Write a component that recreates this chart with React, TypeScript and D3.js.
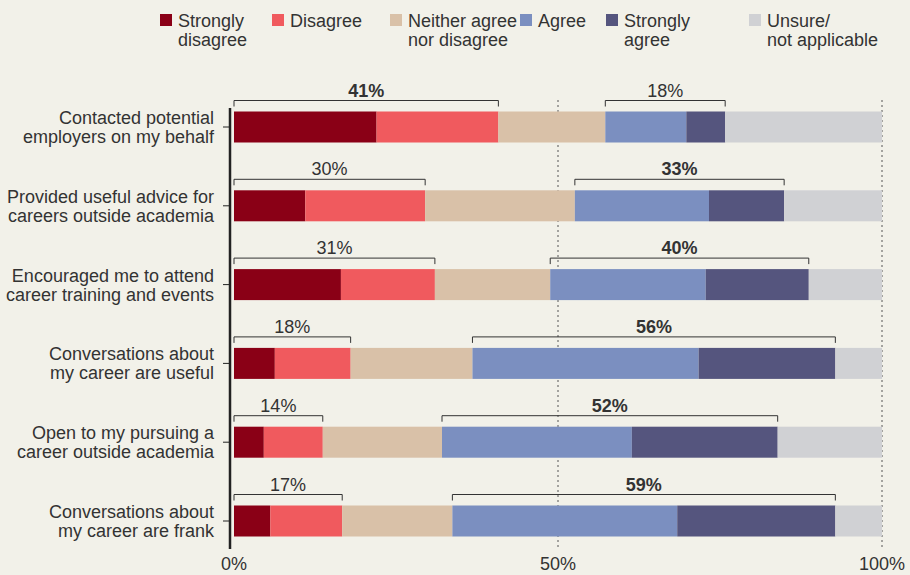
import React from "react";
import * as d3 from "d3";

const categories = [
  ["Contacted potential", "employers on my behalf"],
  ["Provided useful advice for", "careers outside academia"],
  ["Encouraged me to attend", "career training and events"],
  ["Conversations about", "my career are useful"],
  ["Open to my pursuing a", "career outside academia"],
  ["Conversations about", "my career are frank"],
];
const stronglyDisagree = [22, 11, 16.5, 6.3, 4.6, 5.6];
const disagree = [18.8, 18.5, 14.5, 11.7, 9.1, 11.1];
const neither = [16.5, 23.1, 17.8, 18.8, 18.4, 17.0];
const agree = [12.5, 20.7, 24, 34.9, 29.3, 34.7];
const stronglyAgree = [6, 11.6, 15.9, 21.1, 22.5, 24.4];
const unsure = [24.2, 15.1, 11.3, 7.2, 16.1, 7.2];

const disagreeLabels = ["41%", "30%", "31%", "18%", "14%", "17%"];
const agreeLabels = ["18%", "33%", "40%", "56%", "52%", "59%"];
const boldDisagree = [true, false, false, false, false, false];

const legendLabels = [
  ["Strongly", "disagree"],
  ["Disagree"],
  ["Neither agree", "nor disagree"],
  ["Agree"],
  ["Strongly", "agree"],
  ["Unsure/", "not applicable"],
];
const tickValues = [0, 50, 100];

const colors = ["#8a0016", "#f05a5e", "#d9c1a8", "#7b8fc0", "#55557e", "#d0d1d4"];
const legendX = [160, 272, 390, 520, 606, 749];

export default function App() {
  const W = 910, H = 575;
  const x = d3.scaleLinear().domain([0, 100]).range([234, 882]);
  const y = d3.scalePoint<number>().domain(d3.range(categories.length)).range([127, 521]);
  const barH = 31;
  const series = [stronglyDisagree, disagree, neither, agree, stronglyAgree, unsure];
  const font = "'Liberation Sans', Arial, sans-serif";
  const textColor = "#333";
  const fs = 18;

  return (
    <svg width={W} height={H} style={{ position: "absolute", left: 0, top: 0 }} fontFamily={font}>
      <rect width={W} height={H} fill="#f2f1e9" />
      {legendLabels.map((lines, i) => (
        <g key={i}>
          <rect x={legendX[i]} y={14} width={12} height={12} fill={colors[i]} />
          <text x={legendX[i] + 18} y={27} fontSize={fs} fill={textColor}>
            {lines.map((l, j) => (
              <tspan key={j} x={legendX[i] + 18} dy={j === 0 ? 0 : 19}>{l}</tspan>
            ))}
          </text>
        </g>
      ))}
      {[50, 100].map((v) => (
        <line key={v} x1={x(v)} x2={x(v)} y1={100} y2={549} stroke="#555" strokeWidth={1} strokeDasharray="2,3" />
      ))}
      {categories.map((cat, i) => {
        const cy = y(i)!;
        const top = cy - barH / 2;
        let acc = 0;
        const segs = series.map((s, k) => {
          const x0 = acc;
          acc += s[i];
          return <rect key={k} x={x(x0)} y={top} width={x(acc) - x(x0)} height={barH} fill={colors[k]} />;
        });
        const dEnd = stronglyDisagree[i] + disagree[i];
        const aStart = dEnd + neither[i];
        const aEnd = aStart + agree[i] + stronglyAgree[i];
        const by = top - 11;
        const bracket = (a: number, b: number, label: string, bold: boolean, key: string) => (
          <g key={key}>
            <path d={`M${x(a)},${by + 6}V${by}H${x(b)}V${by + 6}`} fill="none" stroke="#333" strokeWidth={1} />
            <text x={(x(a) + x(b)) / 2} y={by - 4} textAnchor="middle" fontSize={fs} fill={textColor} fontWeight={bold ? "bold" : "normal"}>
              {label}
            </text>
          </g>
        );
        return (
          <g key={i}>
            {segs}
            {bracket(0, dEnd, disagreeLabels[i], boldDisagree[i], "d")}
            {bracket(aStart, aEnd, agreeLabels[i], !boldDisagree[i], "a")}
            <text x={214} y={cy - 3} textAnchor="end" fontSize={fs} fill={textColor}>
              <tspan x={214}>{cat[0]}</tspan>
              <tspan x={214} dy={19}>{cat[1]}</tspan>
            </text>
            <line x1={223} x2={230} y1={cy} y2={cy} stroke="#222" strokeWidth={1} />
          </g>
        );
      })}
      <line x1={230} x2={230} y1={108} y2={549} stroke="#222" strokeWidth={2.5} />
      {tickValues.map((v) => (
        <text key={v} x={x(v)} y={570} textAnchor="middle" fontSize={fs} fill={textColor}>
          {v}%
        </text>
      ))}
    </svg>
  );
}
